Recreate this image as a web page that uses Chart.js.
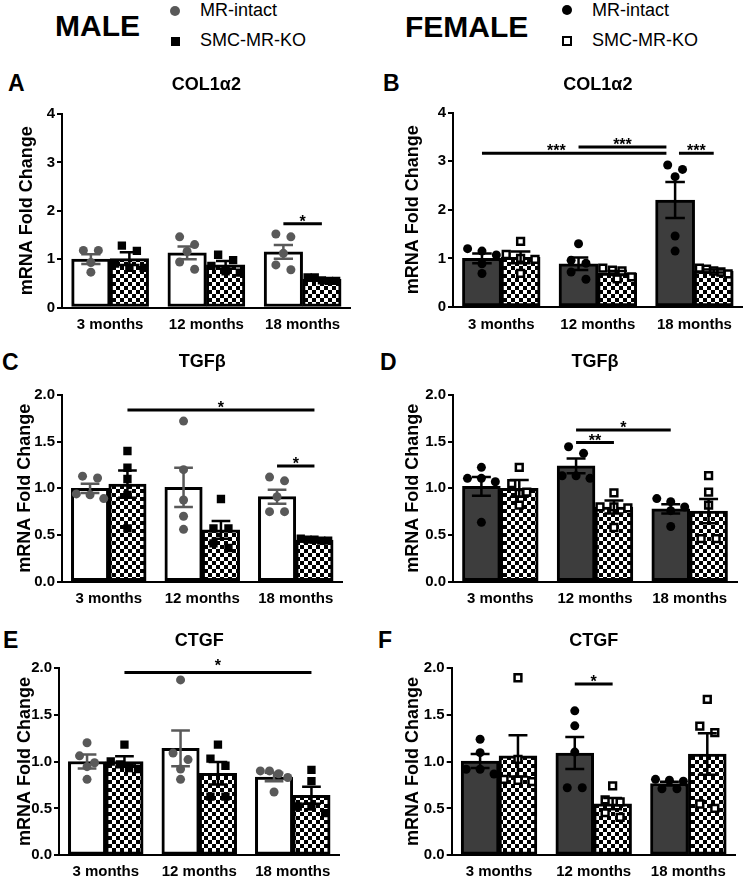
<!DOCTYPE html>
<html><head><meta charset="utf-8"><title>Fibrosis markers by age and sex</title>
<script src="https://cdn.jsdelivr.net/npm/chart.js@4.4.1/dist/chart.umd.min.js"></script>
<style>
html,body{margin:0;padding:0;background:#fff}
body{width:750px;height:878px;position:relative;overflow:hidden;font-family:"Liberation Sans",Arial,Helvetica,sans-serif;color:#000}
canvas{position:absolute}
.t{position:absolute;white-space:nowrap;line-height:1}
.big{font-size:30px;font-weight:bold}
.leg{font-size:18px}
.let{font-size:23px;font-weight:bold}
.sym{position:absolute;box-sizing:border-box;display:block}
</style></head><body>
<div class="t big" style="left:55px;top:11px">MALE</div>
<div class="t big" style="left:405px;top:12px">FEMALE</div>
<span class="sym" style="left:170px;top:6px;width:10px;height:10px;border-radius:50%;background:#595959"></span>
<div class="t leg" style="left:200px;top:1px">MR-intact</div>
<span class="sym" style="left:170.5px;top:36.5px;width:9px;height:9px;background:#000"></span>
<div class="t leg" style="left:200px;top:31px">SMC-MR-KO</div>
<span class="sym" style="left:561.5px;top:5px;width:10px;height:10px;border-radius:50%;background:#000"></span>
<div class="t leg" style="left:592px;top:1px">MR-intact</div>
<span class="sym" style="left:561.5px;top:36px;width:10px;height:10px;border:2.5px solid #000;background:#fff"></span>
<div class="t leg" style="left:592px;top:31px">SMC-MR-KO</div>
<div class="t let" style="left:8px;top:72px">A</div>
<div class="t let" style="left:383px;top:72px">B</div>
<div class="t let" style="left:2px;top:351px">C</div>
<div class="t let" style="left:380px;top:351px">D</div>
<div class="t let" style="left:3px;top:629px">E</div>
<div class="t let" style="left:378px;top:629px">F</div>
<canvas id="cA" width="375" height="268" style="left:0px;top:70px"></canvas>
<canvas id="cB" width="375" height="268" style="left:375px;top:70px"></canvas>
<canvas id="cC" width="375" height="267" style="left:0px;top:345px"></canvas>
<canvas id="cD" width="375" height="267" style="left:375px;top:345px"></canvas>
<canvas id="cE" width="375" height="258" style="left:0px;top:620px"></canvas>
<canvas id="cF" width="375" height="258" style="left:375px;top:620px"></canvas>
<script>
// ---------- data ----------
const months = ['3 months', '12 months', '18 months'];
const ticksCol = [0, 1, 2, 3, 4];
const ticksColLabels = ['0', '1', '2', '3', '4'];
const ticksFold = [0, 0.5, 1.0, 1.5, 2.0];
const ticksFoldLabels = ['0.0', '0.5', '1.0', '1.5', '2.0'];

// A: male COL1a2
const aMeanIntact = [1.00, 1.13, 1.15];
const aSemIntact = [0.10, 0.13, 0.14];
const aMeanKO = [1.01, 0.88, 0.58];
const aSemKO = [0.13, 0.08, 0.02];
const aPtsIntact = [[1.18, 1.18, 0.93, 0.73], [1.46, 1.30, 1.16, 0.94, 0.79], [1.52, 1.46, 1.12, 0.88, 0.78]];
const aPtsKO = [[1.28, 1.17, 0.91, 0.82, 0.82], [1.09, 0.98, 0.86, 0.75, 0.72], [0.62, 0.62, 0.56, 0.55, 0.55]];
const aSig = [{from: [2, 0], to: [2, 1], y: 1.73, text: '*'}];

// B: female COL1a2
const bMeanIntact = [1.00, 0.89, 2.20];
const bSemIntact = [0.10, 0.13, 0.37];
const bMeanKO = [1.02, 0.70, 0.74];
const bSemKO = [0.12, 0.04, 0.03];
const bPtsIntact = [[1.20, 1.15, 1.07, 0.89, 0.69], [1.30, 0.96, 0.90, 0.72, 0.57], [2.92, 2.83, 2.68, 1.46, 1.15]];
const bPtsKO = [[1.35, 1.08, 1.00, 0.98, 0.69], [0.80, 0.76, 0.74, 0.62, 0.58], [0.80, 0.78, 0.74, 0.72, 0.68]];
const bSig = [
  {from: [0, 0], to: [2, 0], toAt: 1.71, y: 3.16, text: '***', labelAt: 0.57},
  {from: [1, 0], to: [2, 0], toAt: 1.71, y: 3.29, text: '***'},
  {from: [2, 0], to: [2, 1], fromAt: 1.84, y: 3.16, text: '***'}
];

// C: male TGFb
const cMeanIntact = [1.00, 1.01, 0.91];
const cSemIntact = [0.05, 0.21, 0.075];
const cMeanKO = [1.045, 0.555, 0.445];
const cSemKO = [0.145, 0.095, 0.01];
const cPtsIntact = [[1.13, 1.11, 0.94, 0.93, 0.89], [1.72, 1.20, 0.875, 0.70, 0.56], [1.12, 1.08, 0.91, 0.75, 0.75]];
const cPtsKO = [[1.40, 1.22, 1.10, 0.93, 0.57], [0.885, 0.57, 0.57, 0.41, 0.36], [0.46, 0.45, 0.45, 0.44, 0.44]];
const cSig = [
  {from: [0, 1], to: [2, 1], y: 1.84, text: '*'},
  {from: [2, 0], to: [2, 1], y: 1.24, text: '*'}
];

// D: female TGFb
const dMeanIntact = [1.02, 1.24, 0.78];
const dSemIntact = [0.10, 0.08, 0.05];
const dMeanKO = [1.00, 0.80, 0.755];
const dSemKO = [0.09, 0.07, 0.13];
const dPtsIntact = [[1.225, 1.107, 1.107, 1.07, 0.635], [1.445, 1.375, 1.135, 1.135, 1.107], [0.89, 0.857, 0.80, 0.76, 0.59]];
const dPtsKO = [[1.225, 1.05, 0.96, 0.945, 0.82], [0.95, 0.80, 0.80, 0.79, 0.58], [1.135, 0.96, 0.82, 0.46, 0.46]];
const dSig = [
  {from: [1, 0], to: [2, 0], y: 1.625, text: '*'},
  {from: [1, 0], to: [1, 1], y: 1.49, text: '**'}
];

// E: male CTGF
const eMeanIntact = [1.00, 1.14, 0.835];
const eSemIntact = [0.075, 0.19, 0.045];
const eMeanKO = [1.00, 0.875, 0.64];
const eSemKO = [0.055, 0.12, 0.09];
const ePtsIntact = [[1.20, 1.06, 0.987, 0.945, 0.81], [1.87, 1.09, 1.02, 0.92, 0.81], [0.90, 0.90, 0.87, 0.83, 0.675]];
const ePtsKO = [[1.18, 1.00, 0.97, 0.93, 0.92], [1.18, 1.03, 0.955, 0.625, 0.625], [0.91, 0.79, 0.52, 0.52, 0.45]];
const eSig = [{from: [0, 1], to: [2, 1], y: 1.95, text: '*', lift: 4}];

// F: female CTGF
const fMeanIntact = [1.005, 1.09, 0.765];
const fSemIntact = [0.075, 0.17, 0.02];
const fMeanKO = [1.06, 0.55, 1.08];
const fSemKO = [0.22, 0.06, 0.22];
const fPtsIntact = [[1.237, 1.094, 0.917, 0.917, 0.867], [1.54, 1.38, 1.10, 0.72, 0.72], [0.81, 0.80, 0.79, 0.71, 0.71]];
const fPtsKO = [[1.893, 1.023, 0.81, 0.80, 0.785], [0.74, 0.59, 0.57, 0.455, 0.405], [1.663, 1.378, 1.307, 0.547, 0.50]];
const fSig = [{from: [1, 0], to: [1, 1], y: 1.826, text: '*'}];

// ---------- rendering ----------
const FONT = "'Liberation Sans', Arial, Helvetica, sans-serif";
Chart.defaults.font.family = FONT;
Chart.defaults.color = '#000';
const GROUP_WIDTH = 0.8;           // fraction of a category used by the two bars
const HALF = GROUP_WIDTH / 4;      // offset of each bar centre from the category centre

function checker() {
  const tile = document.createElement('canvas');
  tile.width = 8; tile.height = 8;
  const g = tile.getContext('2d');
  g.fillStyle = '#000'; g.fillRect(0, 0, 8, 8);
  g.fillStyle = '#fff'; g.fillRect(0, 0, 4, 4); g.fillRect(4, 4, 4, 4);
  return document.createElement('canvas').getContext('2d').createPattern(tile, 'repeat');
}

const extras = {
  id: 'extras',
  afterDatasetsDraw(chart) {
    const e = chart.canvas._extra;
    if (!e) return;
    const ctx = chart.ctx, y = chart.scales.y, x = chart.scales.x;
    ctx.save();
    [0, 1].forEach(s => {
      const meta = chart.getDatasetMeta(s);
      meta.data.forEach((bar, i) => {
        const m = meta._parsed[i].y;
        const top = y.getPixelForValue(m + e.sem[s][i]);
        const bot = y.getPixelForValue(m - e.sem[s][i]);
        const h = bar.width / 4;
        ctx.strokeStyle = e.errColor[s];
        ctx.lineWidth = 2.5;
        ctx.beginPath();
        ctx.moveTo(bar.x, top); ctx.lineTo(bar.x, bot);
        ctx.moveTo(bar.x - h, top); ctx.lineTo(bar.x + h, top);
        ctx.moveTo(bar.x - h, bot); ctx.lineTo(bar.x + h, bot);
        ctx.stroke();
      });
    });
    e.sig.forEach(g => {
      const x1 = g.fromAt != null ? x.getPixelForValue(g.fromAt) : chart.getDatasetMeta(g.from[1]).data[g.from[0]].x;
      const x2 = g.toAt != null ? x.getPixelForValue(g.toAt) : chart.getDatasetMeta(g.to[1]).data[g.to[0]].x;
      const py = y.getPixelForValue(g.y);
      ctx.strokeStyle = '#000';
      ctx.lineWidth = 3;
      ctx.beginPath(); ctx.moveTo(x1, py); ctx.lineTo(x2, py); ctx.stroke();
      ctx.fillStyle = '#000';
      ctx.font = 'bold 16px ' + FONT;
      ctx.textAlign = 'center';
      ctx.textBaseline = 'alphabetic';
      const lx = g.labelAt != null ? x.getPixelForValue(g.labelAt) : (x1 + x2) / 2;
      ctx.fillText(g.text, lx, py + 3 - (g.lift || 0));
    });
    ctx.restore();
  }
};

function swarm(chart, s, groups) {
  const y = chart.scales.y, x = chart.scales.x;
  const bars = chart.getDatasetMeta(s).data;
  const out = [];
  groups.forEach((vals, i) => {
    const cx = bars[i].x, bw = bars[i].width;
    const sorted = vals.slice().sort((a, b) => b - a);
    const rows = [];
    sorted.forEach(v => {
      const r = rows[rows.length - 1];
      if (r && y.getPixelForValue(v) - y.getPixelForValue(r[0]) < 9) r.push(v); else rows.push([v]);
    });
    rows.forEach(r => {
      const n = r.length;
      const step = n > 1 ? Math.min(15, (bw - 10) / (n - 1)) : 0;
      r.forEach((v, k) => out.push({x: x.getValueForPixel(cx + (k - (n - 1) / 2) * step), y: v}));
    });
  });
  return out;
}

const checkerFill = checker();

function makePanel(cfg) {
  const cv = document.getElementById(cfg.id);
  cv._extra = {sem: [cfg.semI, cfg.semK], errColor: [cfg.female ? '#000' : '#595959', '#000'], sig: cfg.sig};
  const barData = (means, side) => means.map((m, i) => ({x: i + side * HALF, y: m}));
  const chart = new Chart(cv, {
    type: 'bar',
    data: {
      datasets: [
        {label: 'MR-intact', data: barData(cfg.meanI, -1), backgroundColor: cfg.female ? '#3d3d3d' : '#ffffff',
         borderColor: '#000', borderWidth: 3, borderSkipped: false, grouped: false, barThickness: 30, order: 2},
        {label: 'SMC-MR-KO', data: barData(cfg.meanK, 1), backgroundColor: checkerFill,
         borderColor: '#000', borderWidth: 3, borderSkipped: false, grouped: false, barThickness: 30, order: 3},
        {type: 'scatter', label: 'MR-intact points', data: [], order: 0,
         pointStyle: 'circle', pointRadius: 4.5,
         pointBackgroundColor: cfg.female ? '#000' : '#595959',
         pointBorderColor: cfg.female ? '#000' : '#595959', pointBorderWidth: 0},
        {type: 'scatter', label: 'SMC-MR-KO points', data: [], order: 1,
         pointStyle: 'rect', pointRadius: cfg.female ? 4.8 : 5.9,
         pointBackgroundColor: cfg.female ? '#fff' : '#000',
         pointBorderColor: '#000', pointBorderWidth: cfg.female ? 2.5 : 0}
      ]
    },
    options: {
      responsive: false, animation: false, events: [],
      layout: {padding: {left: 0, right: cfg.pr, top: 0, bottom: 0}},
      plugins: {
        legend: {display: false}, tooltip: {enabled: false},
        title: {display: true, text: cfg.title, fullSize: false, color: '#000',
                font: {size: 18, weight: 'bold'}, padding: cfg.titlePad}
      },
      scales: {
        x: {type: 'linear', min: -0.5, max: 2.5, offset: false, grid: {display: false},
            border: {display: true, color: '#000', width: 2},
            afterBuildTicks: s => { s.ticks = months.map((m, i) => ({value: i})); },
            ticks: {color: '#000', font: {size: 15, weight: 'bold'}, padding: cfg.xpad, maxRotation: 0,
                    autoSkip: false, callback: v => months[v]},
            afterFit: s => { s.height = cfg.xh; }},
        y: {type: 'linear', min: 0, max: cfg.ticks[cfg.ticks.length - 1],
            grid: {display: true, drawOnChartArea: false, drawTicks: true, tickLength: 5, color: '#000', lineWidth: 2},
            border: {display: true, color: '#000', width: 2},
            ticks: {color: '#000', font: {size: 15, weight: 'bold'}, padding: 2,
                    callback: (v, i) => cfg.tickLabels[i]},
            afterBuildTicks: s => { s.ticks = cfg.ticks.map(v => ({value: v})); },
            title: {display: true, text: 'mRNA Fold Change', color: '#000',
                    font: {size: 18, weight: 'bold'}, padding: {top: cfg.ytp, bottom: 0}},
            afterFit: s => { s.width = cfg.yw; }}
      }
    },
    plugins: [extras]
  });
  const xs = chart.scales.x;
  const thick = xs.getPixelForValue(2 * HALF) - xs.getPixelForValue(0);
  chart.data.datasets[0].barThickness = thick;
  chart.data.datasets[1].barThickness = thick;
  chart.update('none');
  chart.data.datasets[2].data = swarm(chart, 0, cfg.ptsI);
  chart.data.datasets[3].data = swarm(chart, 1, cfg.ptsK);
  chart.update('none');
}

makePanel({id: 'cA', title: 'COL1α2', female: false, meanI: aMeanIntact, semI: aSemIntact, meanK: aMeanKO, semK: aSemKO,
  ptsI: aPtsIntact, ptsK: aPtsKO, sig: aSig, ticks: ticksCol, tickLabels: ticksColLabels,
  yw: 62, pr: 24.25, titlePad: {top: 4.2, bottom: 18.2}, xh: 30.5, xpad: 0.5, ytp: 16});
makePanel({id: 'cB', title: 'COL1α2', female: true, meanI: bMeanIntact, semI: bSemIntact, meanK: bMeanKO, semK: bSemKO,
  ptsI: bPtsIntact, ptsK: bPtsKO, sig: bSig, ticks: ticksCol, tickLabels: ticksColLabels,
  yw: 78, pr: 4, titlePad: {top: 4.2, bottom: 16.7}, xh: 31, xpad: 0.5, ytp: 27});
makePanel({id: 'cC', title: 'TGFβ', female: false, meanI: cMeanIntact, semI: cSemIntact, meanK: cMeanKO, semK: cSemKO,
  ptsI: cPtsIntact, ptsK: cPtsKO, sig: cSig, ticks: ticksFold, tickLabels: ticksFoldLabels,
  yw: 62, pr: 32.5, titlePad: {top: 6.2, bottom: 22.2}, xh: 30.4, xpad: 0.5, ytp: 14});
makePanel({id: 'cD', title: 'TGFβ', female: true, meanI: dMeanIntact, semI: dSemIntact, meanK: dMeanKO, semK: dSemKO,
  ptsI: dPtsIntact, ptsK: dPtsKO, sig: dSig, ticks: ticksFold, tickLabels: ticksFoldLabels,
  yw: 78, pr: 13, titlePad: {top: 6.2, bottom: 22.2}, xh: 30.4, xpad: 0.5, ytp: 27});
makePanel({id: 'cE', title: 'CTGF', female: false, meanI: eMeanIntact, semI: eSemIntact, meanK: eMeanKO, semK: eSemKO,
  ptsI: ePtsIntact, ptsK: ePtsKO, sig: eSig, ticks: ticksFold, tickLabels: ticksFoldLabels,
  yw: 59, pr: 35.5, titlePad: {top: 10, bottom: 16.1}, xh: 22.7, xpad: -0.5, ytp: 14});
makePanel({id: 'cF', title: 'CTGF', female: true, meanI: fMeanIntact, semI: fSemIntact, meanK: fMeanKO, semK: fSemKO,
  ptsI: fPtsIntact, ptsK: fPtsKO, sig: fSig, ticks: ticksFold, tickLabels: ticksFoldLabels,
  yw: 76.7, pr: 14.3, titlePad: {top: 10, bottom: 16.1}, xh: 22.7, xpad: -0.5, ytp: 27});
</script>
</body></html>
